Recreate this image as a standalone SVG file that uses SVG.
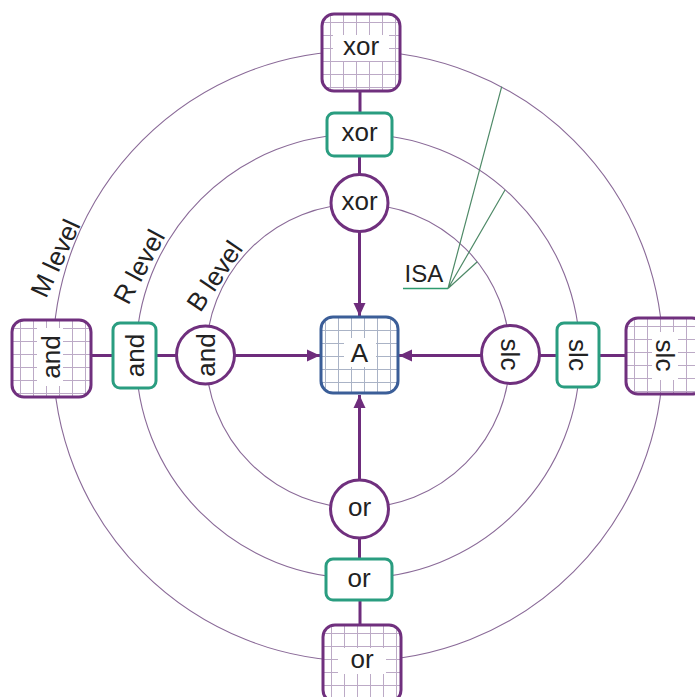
<svg xmlns="http://www.w3.org/2000/svg" width="695" height="697" viewBox="0 0 695 697">
<defs>
<style>
.ring{fill:none;stroke:#8a6a98;stroke-width:1.1}
.conn{stroke:#6e2c7c;stroke-width:3;fill:none}
.mnode{fill:url(#gridM);stroke:#70307e;stroke-width:3}
.rnode{fill:#fff;stroke:#2a9d80;stroke-width:3}
.bnode{fill:#fff;stroke:#70307e;stroke-width:3}
.anode{fill:url(#gridA);stroke:#3b5e98;stroke-width:3}
.halo{fill:#fff}
.lbl{font-family:"Liberation Sans",Arial,sans-serif;font-size:26px;fill:#222;text-anchor:middle}
.lvl{font-family:"Liberation Sans",Arial,sans-serif;font-size:26px;fill:#222;text-anchor:middle}
.isa{stroke:#4f8a68;stroke-width:1.2;fill:none}
</style>
<pattern id="gridM" patternUnits="userSpaceOnUse" x="8" y="8" width="13" height="13">
<rect width="13" height="13" fill="#fff"/>
<path d="M0.5,0V13M0,0.5H13" stroke="#bcaac6" stroke-width="1"/>
</pattern>
<pattern id="gridA" patternUnits="userSpaceOnUse" x="4" y="0" width="13" height="13">
<rect width="13" height="13" fill="#fff"/>
<path d="M0.5,0V13M0,0.5H13" stroke="#aab3c6" stroke-width="1"/>
</pattern>
<marker id="arr" markerWidth="14" markerHeight="14" refX="13" refY="7" orient="auto" markerUnits="userSpaceOnUse">
<path d="M0,1 L13,7 L0,13 z" fill="#6e2c7c"/>
</marker>
</defs>

<g id="rings">
<circle class="ring" cx="358" cy="356" r="152"/>
<circle class="ring" cx="358" cy="356" r="222"/>
<circle class="ring" cx="358" cy="356" r="305"/>
</g>

<g id="level-labels">
<text class="lvl" x="63.5" y="262" transform="rotate(-65 63.5 262)">M level</text>
<text class="lvl" x="147" y="271" transform="rotate(-62 147 271)">R level</text>
<text class="lvl" x="222" y="281" transform="rotate(-56 222 281)">B level</text>
</g>

<g id="isa">
<path class="isa" d="M448,288.5 L501.7,86.7 M448,288.5 L505,190 M448,288.5 L477.3,261.7"/>
<path d="M403,288.5 H448" stroke="#2e9a6e" stroke-width="1.4"/>
<text x="404.5" y="281.7" font-family="Liberation Sans, Arial, sans-serif" font-size="24" fill="#222">ISA</text>
</g>

<g id="connectors">
<path class="conn" d="M360,91 V113"/>
<path class="conn" d="M359.5,156 V174.5"/>
<path class="conn" d="M359.5,231.5 V316" marker-end="url(#arr)"/>
<path class="conn" d="M360,625 V600"/>
<path class="conn" d="M359.5,559 V538"/>
<path class="conn" d="M359.5,480 V395" marker-end="url(#arr)"/>
<path class="conn" d="M91,355.5 H113"/>
<path class="conn" d="M156,355.5 H176.5"/>
<path class="conn" d="M234.5,355.5 H320" marker-end="url(#arr)"/>
<path class="conn" d="M626,355.5 H599"/>
<path class="conn" d="M557,355.5 H539.5"/>
<path class="conn" d="M481.5,355.5 H399" marker-end="url(#arr)"/>
</g>

<g id="node-A" transform="translate(321,317)">
<rect class="anode" x="0" y="0" width="77" height="76" rx="12"/>
<rect class="halo" x="23" y="21" width="32" height="29"/>
<text class="lbl" x="38.5" y="44.7">A</text>
</g>

<g id="node-M-xor" transform="translate(322,14)">
<rect class="mnode" x="0" y="0" width="78" height="77" rx="12"/>
<rect class="halo" x="11" y="21" width="56" height="26"/>
<text class="lbl" x="39" y="41">xor</text>
</g>
<g id="node-R-xor">
<rect class="rnode" x="327" y="113" width="65" height="43" rx="7"/>
<text class="lbl" x="359.5" y="141">xor</text>
</g>
<g id="node-B-xor">
<circle class="bnode" cx="359.5" cy="203" r="28.5"/>
<text class="lbl" x="359.5" y="209.5">xor</text>
</g>

<g id="node-B-or">
<circle class="bnode" cx="359.5" cy="509" r="29"/>
<text class="lbl" x="359.5" y="515.5">or</text>
</g>
<g id="node-R-or">
<rect class="rnode" x="326" y="559" width="66" height="41" rx="7"/>
<text class="lbl" x="359" y="586.5">or</text>
</g>
<g id="node-M-or" transform="translate(323,625)">
<rect class="mnode" x="0" y="0" width="78" height="77" rx="12"/>
<rect class="halo" x="15" y="23" width="48" height="26"/>
<text class="lbl" x="39" y="43">or</text>
</g>

<g id="node-M-and" transform="translate(12,320)">
<rect class="mnode" x="0" y="0" width="79" height="77" rx="12"/>
<rect class="halo" x="25" y="8" width="26" height="58"/>
<text class="lbl" transform="translate(38,37) rotate(-90)" x="0" y="9.5">and</text>
</g>
<g id="node-R-and">
<rect class="rnode" x="113" y="323" width="43" height="65" rx="7"/>
<text class="lbl" transform="translate(134.5,355.5) rotate(-90)" x="0" y="9.5">and</text>
</g>
<g id="node-B-and">
<circle class="bnode" cx="205.5" cy="355" r="29"/>
<text class="lbl" transform="translate(205.5,355) rotate(-90)" x="0" y="9.5">and</text>
</g>

<g id="node-B-slc">
<circle class="bnode" cx="510.5" cy="354.5" r="29"/>
<text class="lbl" transform="translate(510.5,354.5) rotate(90)" x="0" y="9.5">slc</text>
</g>
<g id="node-R-slc">
<rect class="rnode" x="557" y="323" width="42" height="64" rx="7"/>
<text class="lbl" transform="translate(578,355) rotate(90)" x="0" y="9.5">slc</text>
</g>
<g id="node-M-slc" transform="translate(626,318)">
<rect class="mnode" x="0" y="0" width="78" height="76" rx="12"/>
<rect class="halo" x="26" y="14" width="26" height="48"/>
<text class="lbl" transform="translate(39,37.5) rotate(90)" x="0" y="9.5">slc</text>
</g>
</svg>
